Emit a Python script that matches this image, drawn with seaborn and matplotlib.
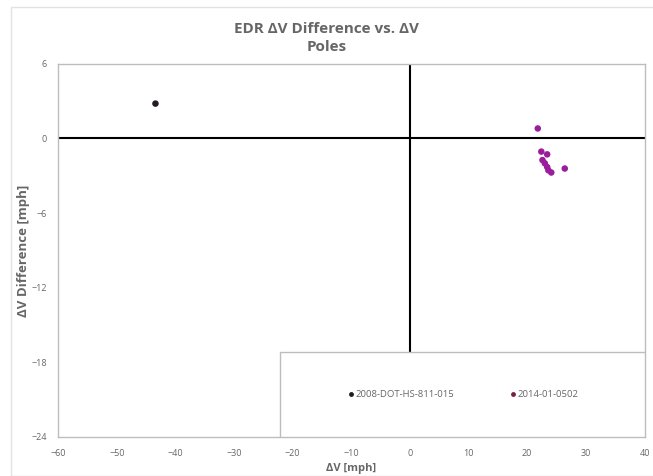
import matplotlib
matplotlib.use("Agg")
import matplotlib.pyplot as plt
from matplotlib.patches import Rectangle
import seaborn as sns
import pandas as pd

# ---- data ----
series_names = ["2008-DOT-HS-811-015", "2014-01-0502"]
dv_2008 = [-43.4]
diff_2008 = [2.8]
dv_2014 = [21.8, 22.4, 23.4, 22.6, 23.0, 23.4, 23.6, 24.1, 26.4]
diff_2014 = [0.8, -1.06, -1.28, -1.74, -2.0, -2.3, -2.56, -2.74, -2.42]
x_ticks = [-60, -50, -40, -30, -20, -10, 0, 10, 20, 30, 40]
y_ticks = [6, 0, -6, -12, -18, -24]
title_text = "EDR ΔV Difference vs. ΔV\nPoles"
x_label = "ΔV [mph]"
y_label = "ΔV Difference [mph]"

df = pd.DataFrame({
    "dv": dv_2008 + dv_2014,
    "diff": diff_2008 + diff_2014,
    "series": [series_names[0]] * len(dv_2008) + [series_names[1]] * len(dv_2014),
})

sns.set_theme(style="white")
plt.rcParams["font.family"] = ["Open Sans", "DejaVu Sans"]

fig = plt.figure(figsize=(6.53, 4.76), dpi=100)
fig.patch.set_facecolor("white")
fig.patches.append(Rectangle((11 / 653, 0), 1, 1 - 7 / 476, transform=fig.transFigure,
                             fill=False, edgecolor="#e2e2e2", linewidth=1.0))
ax = fig.add_axes([0.089, 0.082, 0.898, 0.784])

palette = {series_names[0]: "#231a23", series_names[1]: "#9a1d9c"}
sns.scatterplot(data=df, x="dv", y="diff", hue="series", palette=palette,
                s=22, linewidth=0, ax=ax, zorder=3, legend=False)

ax.axhline(0, color="black", linewidth=1.5, zorder=2)
ax.axvline(0, color="black", linewidth=1.5, zorder=2)

ax.set_xlim(-60, 40)
ax.set_ylim(-24, 6)
ax.set_xticks(x_ticks)
ax.set_yticks(y_ticks)
ax.tick_params(axis="both", length=0, labelsize=6.5, labelcolor="#666666")
ax.tick_params(axis="x", pad=9)
ax.tick_params(axis="y", pad=8)
for sp in ax.spines.values():
    sp.set_color("#bdbdbd")
    sp.set_linewidth(1.0)

ax.set_xlabel(x_label, fontsize=8, color="#666666", fontweight="bold", labelpad=3)
ax.set_ylabel(y_label, fontsize=9.5, color="#666666", fontweight="bold", labelpad=1)
fig.suptitle(title_text, x=0.5, y=0.953, fontsize=11, color="#666666",
             fontweight="bold", linespacing=1.3)

# legend box
ax.add_patch(Rectangle((0.378, 0), 0.622, 0.228, transform=ax.transAxes,
                       facecolor="white", edgecolor="#bdbdbd", linewidth=1.0, zorder=4))
handles = [plt.Line2D([], [], marker="o", linestyle="", markersize=3.5,
                      markerfacecolor=c, markeredgewidth=0) for c in ["#231a23", "#7a2048"]]
leg = ax.legend(handles, series_names, loc="center", bbox_to_anchor=(0.69, 0.113),
                ncol=2, frameon=False, fontsize=6.8, handletextpad=0.1,
                handlelength=0.8, columnspacing=5.8)
for t in leg.get_texts():
    t.set_color("#666666")
leg.set_zorder(5)

fig.savefig("out.png", dpi=100)
